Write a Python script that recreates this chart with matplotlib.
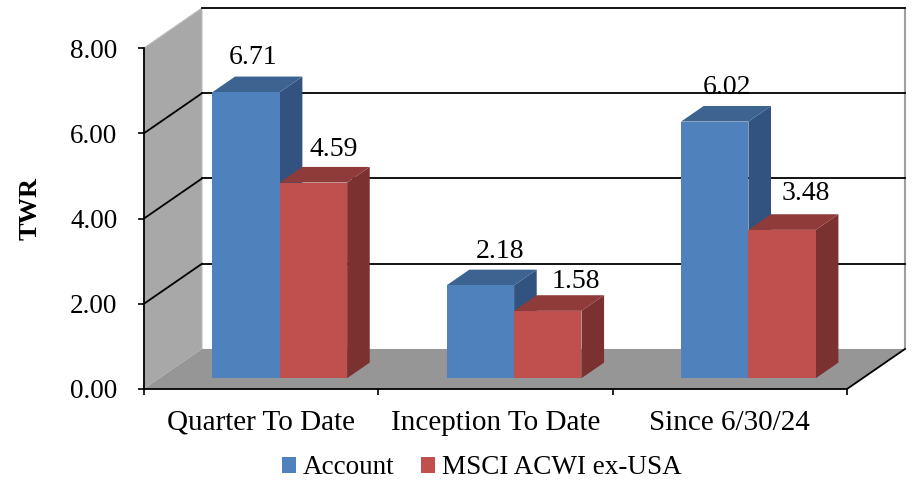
import matplotlib
matplotlib.use('Agg')
import matplotlib.pyplot as plt
from matplotlib.patches import Polygon, Patch

categories = ['Quarter To Date', 'Inception To Date', 'Since 6/30/24']
account = [6.71, 2.18, 6.02]
benchmark = [4.59, 1.58, 3.48]
series_names = ['Account', 'MSCI ACWI ex-USA']
y_ticks = [0, 2, 4, 6, 8]

# oblique offset of the back wall, in data units
DEPTH_X = 0.2475
DEPTH_Y = 0.939
BAR_FRONT = 0.27
BAR_BACK = 0.66
BAR_START = 0.225
BAR_WIDTH = 0.2875

BLUE = ('#4F81BD', '#3D6390', '#325380')
RED = ('#C0504D', '#8E3B39', '#7A3130')

plt.rcParams['font.family'] = ['Liberation Serif', 'DejaVu Serif']

fig = plt.figure(figsize=(9.14, 4.82), dpi=100)
ax = fig.add_axes([144 / 914, (482 - 389) / 482, 703 / 914, 341 / 482])
ax.set_xlim(0, len(categories))
ax.set_ylim(0, 8)
ax.patch.set_visible(False)


def shift(x, y, d):
    return (x + d * DEPTH_X, y + d * DEPTH_Y)


def poly(points, color, z, edge='none', lw=0):
    ax.add_patch(Polygon(points, closed=True, facecolor=color, edgecolor=edge,
                         linewidth=lw, zorder=z, clip_on=False))


def draw_bar(x, value, colors, z):
    w = BAR_WIDTH
    # side, top, then front
    poly([shift(x + w, 0, BAR_FRONT), shift(x + w, 0, BAR_BACK),
          shift(x + w, value, BAR_BACK), shift(x + w, value, BAR_FRONT)], colors[2], z)
    poly([shift(x, value, BAR_FRONT), shift(x + w, value, BAR_FRONT),
          shift(x + w, value, BAR_BACK), shift(x, value, BAR_BACK)], colors[1], z)
    poly([shift(x, 0, BAR_FRONT), shift(x + w, 0, BAR_FRONT),
          shift(x + w, value, BAR_FRONT), shift(x, value, BAR_FRONT)], colors[0], z)


xmax = len(categories)

# left wall and floor
poly([shift(0, 0, 0), shift(0, 0, 1), shift(0, 8, 1), shift(0, 8, 0)], '#A8A8A8', 1,
     edge='#BDBDBD', lw=0.8)
poly([shift(0, 0, 0), shift(0, 0, 1), shift(xmax, 0, 1), shift(xmax, 0, 0)], '#969696', 2)

# grid on both walls
for v in y_ticks[1:]:
    back_left = shift(0, v, 1)
    back_right = shift(xmax, v, 1)
    ax.plot([back_left[0], back_right[0]], [back_left[1], back_right[1]],
            color='black', lw=1.3, zorder=1.5, clip_on=False)
    if v < 8:
        ax.plot([0, back_left[0]], [v, back_left[1]], color='black', lw=1.3,
                zorder=1.5, clip_on=False)

# right edge of the back wall, front right floor edge
top_right = shift(xmax, 8, 1)
bottom_right = shift(xmax, 0, 1)
ax.plot([top_right[0], bottom_right[0]], [top_right[1], bottom_right[1]],
        color='#A0A0A0', lw=1.5, zorder=1.4, clip_on=False)
ax.plot([xmax, bottom_right[0]], [0, bottom_right[1]], color='black', lw=1.3,
        zorder=3, clip_on=False)

# red always sits right of blue, so drawing blue first is enough
account_offset = [(7, 35), (20, 34), (12, 34)]
benchmark_offset = [(20, 33), (28, 29), (24, 36)]
for i in range(len(categories)):
    x1 = i + BAR_START
    x2 = x1 + BAR_WIDTH
    draw_bar(x1, account[i], BLUE, 4 + i)
    draw_bar(x2, benchmark[i], RED, 4.5 + i)
    for x, val, off in [(x1, account[i], account_offset[i]), (x2, benchmark[i], benchmark_offset[i])]:
        px, py = shift(x + BAR_WIDTH / 2, val, BAR_FRONT)
        ax.annotate(f'{val:.2f}', (px, py), xytext=off, textcoords='offset pixels',
                    ha='center', va='center', fontsize=20, color='black', zorder=10,
                    annotation_clip=False)

# axes
for s in ['top', 'right']:
    ax.spines[s].set_visible(False)
for s in ['left', 'bottom']:
    ax.spines[s].set_linewidth(1.3)
    ax.spines[s].set_zorder(3.5)
ax.set_yticks(y_ticks)
ax.set_yticklabels([f'{v:.2f}' for v in y_ticks], fontsize=19.5)
ax.set_xticks(range(xmax + 1))
ax.set_xticklabels([])
ax.set_xticks([i + 0.5 for i in range(xmax)], minor=True)
ax.set_xticklabels(categories, minor=True, fontsize=21)
ax.tick_params(axis='x', which='minor', length=0, pad=15)
ax.tick_params(axis='both', which='major', length=4, width=1.2, pad=15)
ax.set_ylabel('TWR', fontsize=19, fontweight='bold')
ax.yaxis.set_label_coords(-0.146, 0.528)

handles = [Patch(facecolor=BLUE[0]), Patch(facecolor=RED[0])]
fig.legend(handles, series_names, loc='center', bbox_to_anchor=(482 / 914, 1 - 468 / 482),
           ncol=2, frameon=False, fontsize=19.5, handlelength=0.5, handleheight=0.5,
           handletextpad=0.25, columnspacing=1.0, borderpad=0, borderaxespad=0)

fig.savefig('out.png', dpi=100)
